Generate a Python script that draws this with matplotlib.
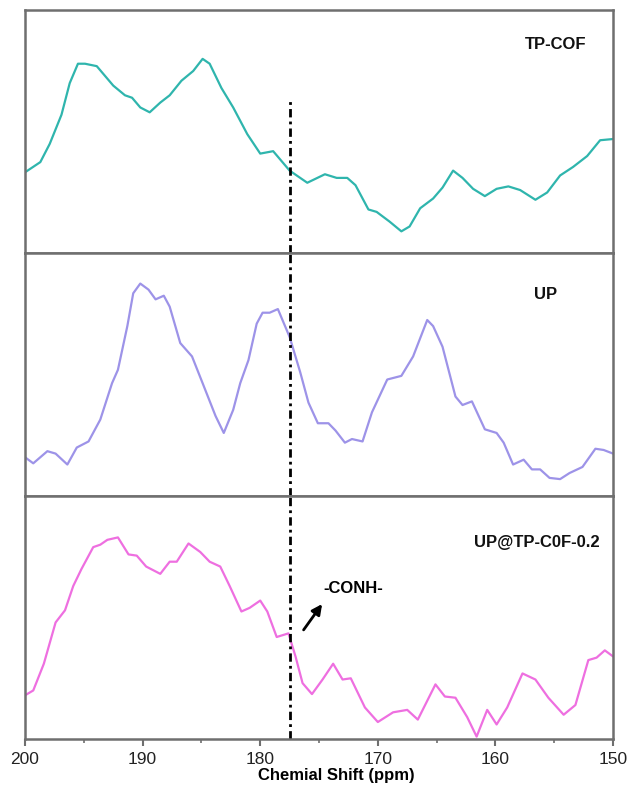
import matplotlib.pyplot as plt

plt.rcParams['font.family'] = ['Liberation Sans', 'DejaVu Sans']

# TP-COF spectrum (normalised intensity)
tp_ppm = [200.0, 198.7, 197.9, 196.9, 196.2, 195.5, 194.9, 193.9, 192.5, 191.5,
          190.9, 190.2, 189.4, 188.5, 187.7, 186.7, 185.7, 184.9, 184.3, 183.3,
          182.3, 181.1, 180.0, 178.9, 177.5, 176.0, 174.5, 173.5, 172.6, 171.9,
          170.8, 170.1, 169.0, 168.0, 167.3, 166.4, 165.3, 164.5, 163.6, 162.8,
          161.9, 160.9, 159.9, 158.9, 157.9, 156.6, 155.6, 154.5, 153.4, 152.2,
          151.1, 150.0]
tp_int = [0.333, 0.375, 0.45, 0.57, 0.70, 0.78, 0.78, 0.77, 0.69, 0.65,
          0.64, 0.60, 0.58, 0.62, 0.65, 0.71, 0.75, 0.80, 0.78, 0.68,
          0.60, 0.49, 0.41, 0.42, 0.34, 0.29, 0.325, 0.31, 0.31, 0.28,
          0.18, 0.17, 0.13, 0.09, 0.11, 0.185, 0.225, 0.27, 0.34, 0.31,
          0.265, 0.235, 0.265, 0.275, 0.26, 0.22, 0.25, 0.32, 0.355, 0.40,
          0.465, 0.47]

# UP spectrum
up_ppm = [200.0, 199.3, 198.1, 197.4, 196.4, 195.6, 194.6, 193.6, 192.6, 192.1,
          191.3, 190.8, 190.2, 189.5, 188.9, 188.2, 187.7, 186.8, 185.8, 184.9,
          183.8, 183.1, 182.3, 181.7, 181.0, 180.3, 179.8, 179.2, 178.5, 177.5,
          176.6, 175.9, 175.1, 174.2, 173.6, 172.8, 172.2, 171.3, 170.5, 169.2,
          168.0, 167.0, 165.8, 165.3, 164.5, 163.4, 162.8, 162.0, 160.9, 159.9,
          159.3, 158.5, 157.6, 156.9, 156.2, 155.4, 154.5, 153.7, 152.6, 151.5,
          150.8, 150.0]
up_int = [0.16, 0.135, 0.185, 0.175, 0.13, 0.20, 0.225, 0.315, 0.465, 0.52,
          0.70, 0.835, 0.875, 0.85, 0.81, 0.825, 0.78, 0.63, 0.575, 0.465,
          0.33, 0.26, 0.355, 0.465, 0.56, 0.71, 0.755, 0.755, 0.77, 0.655,
          0.51, 0.385, 0.30, 0.30, 0.27, 0.22, 0.235, 0.225, 0.345, 0.48,
          0.495, 0.575, 0.725, 0.70, 0.615, 0.41, 0.375, 0.39, 0.275, 0.26,
          0.22, 0.13, 0.15, 0.11, 0.11, 0.075, 0.07, 0.095, 0.12, 0.195,
          0.19, 0.175]

# UP@TP-COF-0.2 spectrum
mix_ppm = [200.0, 199.3, 198.4, 197.4, 196.6, 195.9, 195.2, 194.2, 193.6, 193.0,
           192.1, 191.2, 190.5, 189.7, 188.5, 187.7, 187.1, 186.1, 185.1, 184.3,
           183.4, 182.6, 181.6, 180.9, 180.0, 179.4, 178.6, 177.6, 177.0, 176.4,
           175.6, 174.7, 173.8, 173.0, 172.3, 171.1, 170.0, 168.7, 167.5, 166.6,
           165.1, 164.3, 163.4, 162.4, 161.6, 160.7, 159.9, 159.0, 157.7, 156.6,
           155.5, 154.2, 153.2, 152.1, 151.4, 150.7, 150.0]
mix_int = [0.18, 0.20, 0.31, 0.48, 0.53, 0.63, 0.70, 0.79, 0.80, 0.82,
           0.83, 0.76, 0.755, 0.71, 0.68, 0.73, 0.73, 0.805, 0.77, 0.73,
           0.71, 0.63, 0.525, 0.54, 0.57, 0.525, 0.42, 0.435, 0.34, 0.23,
           0.185, 0.245, 0.31, 0.245, 0.25, 0.13, 0.07, 0.11, 0.12, 0.08,
           0.225, 0.175, 0.17, 0.09, 0.01, 0.12, 0.06, 0.13, 0.27, 0.245,
           0.17, 0.10, 0.14, 0.325, 0.335, 0.365, 0.34]

series = [
    (tp_ppm, tp_int, '#2fb5ad', 'TP-COF'),
    (up_ppm, up_int, '#9d93e8', 'UP'),
    (mix_ppm, mix_int, '#ee6fe0', 'UP@TP-C0F-0.2'),
]
label_pos = [(0.955, 0.86, 'right'), (0.905, 0.83, 'right'), (0.978, 0.81, 'right')]
marker_ppm = 177.5

fig = plt.figure(figsize=(6.32, 7.91), dpi=100)
gs = fig.add_gridspec(3, 1, left=0.0396, right=0.970, top=0.987, bottom=0.0657, hspace=0)
spine_col = '#6f6f6f'

axes = []
for i, (x, y, col, name) in enumerate(series):
    ax = fig.add_subplot(gs[i])
    ax.plot(x, y, color=col, lw=1.6, solid_joinstyle='round', solid_capstyle='round')
    ax.set_xlim(200, 150)
    ax.set_ylim(0, 1)
    ax.set_yticks([])
    for s in ax.spines.values():
        s.set_color(spine_col)
        s.set_linewidth(1.8)
    lx, ly, ha = label_pos[i]
    ax.text(lx, ly, name, transform=ax.transAxes, ha=ha, va='center',
            fontsize=12, fontweight='bold', color='#111111')
    # the dash-dot marker starts part way down the top panel
    ymax = 0.63 if i == 0 else 1
    ax.axvline(marker_ppm, ymin=0, ymax=ymax, color='black', lw=2.0,
               dashes=(3, 1.5, 1, 1.5))
    if i < 2:
        ax.set_xticks([])
    axes.append(ax)

ax = axes[-1]
ax.set_xticks([200, 190, 180, 170, 160, 150])
ax.set_xticks([195, 185, 175, 165, 155], minor=True)
ax.tick_params(axis='x', which='major', direction='out', length=5, width=1.5,
               color=spine_col, labelsize=12.5, labelcolor='#222222', pad=4)
ax.tick_params(axis='x', which='minor', direction='out', length=3, width=1.2,
               color=spine_col)
ax.set_xlabel('Chemial Shift (ppm)', fontsize=12, fontweight='bold', labelpad=1, x=0.53)

ax.annotate('', xy=(174.6, 0.565), xytext=(176.45, 0.44),
            arrowprops=dict(arrowstyle='-|>', color='black', lw=2, mutation_scale=15))
ax.text(174.6, 0.62, '-CONH-', ha='left', va='center', fontsize=12, fontweight='bold')

fig.savefig('out.png', dpi=100)
